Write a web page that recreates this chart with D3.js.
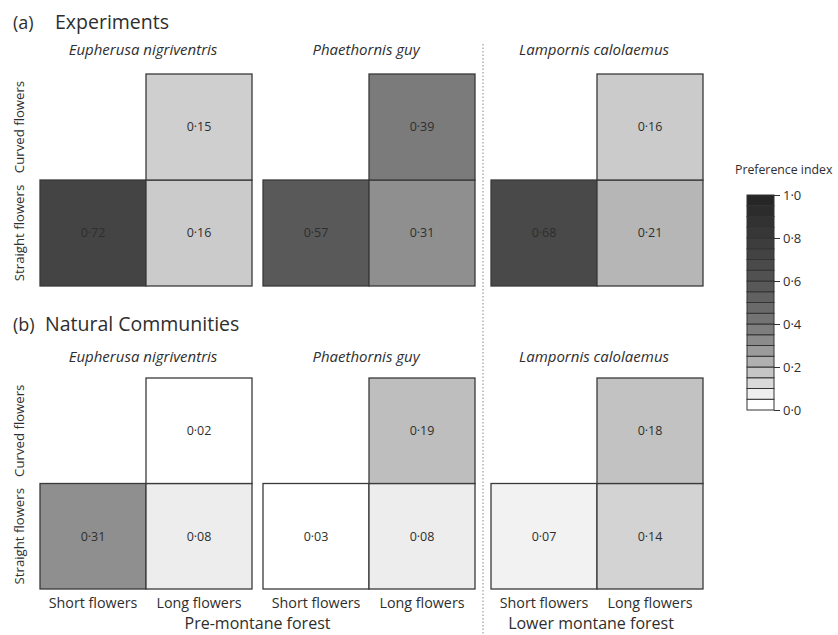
<!DOCTYPE html>
<html><head><meta charset="utf-8">
<script src="https://cdn.jsdelivr.net/npm/d3@7"></script>
<style>
body{margin:0;background:#fff}
text{font-family:"Open Sans",sans-serif;fill:#2e2e2e}
</style>
</head><body>
<svg id="chart" width="838" height="635"></svg>
<script>
// ---------- data ----------
const species = ["Eupherusa nigriventris", "Phaethornis guy", "Lampornis calolaemus"];
const flowerLengths = ["Short flowers", "Long flowers"];
const flowerShapes = ["Curved flowers", "Straight flowers"];
const forests = ["Pre-montane forest", "Lower montane forest"];
const sectionLabels = ["(a)", "(b)"];
const sectionTitles = ["Experiments", "Natural Communities"];
// Experiments
const expStraightShort = [0.72, 0.57, 0.68];
const expStraightLong  = [0.16, 0.31, 0.21];
const expCurvedLong    = [0.15, 0.39, 0.16];
// Natural communities
const natStraightShort = [0.31, 0.03, 0.07];
const natStraightLong  = [0.08, 0.08, 0.14];
const natCurvedLong    = [0.02, 0.19, 0.18];
const legendTicks = [0, 0.2, 0.4, 0.6, 0.8, 1.0];
const legendTitle = "Preference index";

// ---------- helpers ----------
const svg = d3.select("#chart");
const fmt2 = v => d3.format(".2f")(v).replace(".", "\u00B7");
const fmt1 = v => d3.format(".1f")(v).replace(".", "\u00B7");
const grayScale = d3.scaleLinear()
  .domain([0, 0.04, 0.1, 0.2, 0.3, 0.4, 0.55, 0.7, 1])
  .range([255, 255, 228, 186, 145, 120, 92, 70, 35]).clamp(true);
const color = v => { const g = Math.round(grayScale(v)); return `rgb(${g},${g},${g})`; };

const panelX = d3.scaleOrdinal().domain(species).range([40, 263, 491]);
const cellX = d3.scaleBand().domain(flowerLengths).range([0, 212]);

const sections = [
  {label: sectionLabels[0], title: sectionTitles[0], labelX: 13, titleX: 55, headY: 29, spY: 55, top: 74, bottom: 286,
   ss: expStraightShort, sl: expStraightLong, cl: expCurvedLong},
  {label: sectionLabels[1], title: sectionTitles[1], labelX: 13, titleX: 45, headY: 331, spY: 362, top: 378, bottom: 589,
   ss: natStraightShort, sl: natStraightLong, cl: natCurvedLong}
];

sections.forEach((s, si) => {
  const cellY = d3.scaleBand().domain(flowerShapes).range([s.top, s.bottom]);
  svg.append("text").attr("x", s.labelX).attr("y", s.headY).style("font-size", "18px").text(s.label);
  svg.append("text").attr("x", s.titleX).attr("y", s.headY).style("font-size", "19.5px").text(s.title);

  // y labels
  flowerShapes.forEach(sh => {
    const cy = cellY(sh) + cellY.bandwidth() / 2;
    svg.append("text")
      .attr("transform", `translate(24,${cy}) rotate(-90)`)
      .attr("text-anchor", "middle").style("font-size", "13.2px").text(sh);
  });

  species.forEach((sp, i) => {
    const g = svg.append("g").attr("transform", `translate(${panelX(sp)},0)`);
    g.append("text").attr("x", 103).attr("y", s.spY).attr("text-anchor", "middle")
      .style("font-size", "15px").style("font-style", "italic").text(sp);
    const cells = [
      {len: flowerLengths[0], shape: flowerShapes[1], v: s.ss[i]},
      {len: flowerLengths[1], shape: flowerShapes[1], v: s.sl[i]},
      {len: flowerLengths[1], shape: flowerShapes[0], v: s.cl[i]}
    ];
    g.selectAll("rect").data(cells).join("rect")
      .attr("x", d => cellX(d.len)).attr("y", d => cellY(d.shape))
      .attr("width", cellX.bandwidth()).attr("height", cellY.bandwidth())
      .attr("fill", d => color(d.v)).attr("stroke", "#3a3a3a").attr("stroke-width", 1.3);
    g.selectAll("text.val").data(cells).join("text").attr("class", "val")
      .attr("x", d => cellX(d.len) + cellX.bandwidth() / 2)
      .attr("y", d => cellY(d.shape) + cellY.bandwidth() / 2)
      .attr("dy", "0.35em").attr("text-anchor", "middle")
      .style("font-size", "12.5px").text(d => fmt2(d.v));
    if (si === 1) {
      flowerLengths.forEach(l => {
        g.append("text").attr("x", cellX(l) + cellX.bandwidth() / 2).attr("y", 608)
          .attr("text-anchor", "middle").style("font-size", "14.3px").text(l);
      });
    }
  });
});

// forest labels
svg.append("text").attr("x", (panelX(species[0]) + panelX(species[1]) + 212) / 2).attr("y", 629)
  .attr("text-anchor", "middle").style("font-size", "16px").text(forests[0]);
svg.append("text").attr("x", panelX(species[2]) + 100).attr("y", 629)
  .attr("text-anchor", "middle").style("font-size", "16px").text(forests[1]);

// dotted divider
svg.append("line").attr("x1", 483).attr("x2", 483).attr("y1", 44).attr("y2", 635)
  .attr("stroke", "#888").attr("stroke-width", 1).attr("stroke-dasharray", "1.5,2");

// ---------- legend ----------
const ly = d3.scaleLinear().domain([0, 1]).range([410, 195]);
svg.append("text").attr("x", 735).attr("y", 174).style("font-size", "12.3px").text(legendTitle);
const bands = d3.range(20).map(i => i * 0.05);
svg.append("g").selectAll("rect").data(bands).join("rect")
  .attr("x", 747).attr("width", 27)
  .attr("y", d => ly(d + 0.05)).attr("height", d => ly(d) - ly(d + 0.05))
  .attr("fill", d => color(d + 0.025)).attr("stroke", "#333").attr("stroke-width", 1);
const axis = d3.axisRight(ly).tickValues(legendTicks).tickFormat(fmt1).tickSize(6).tickSizeOuter(0);
const ag = svg.append("g").attr("transform", "translate(774,0)").call(axis);
ag.select(".domain").remove();
ag.selectAll(".tick line").attr("stroke", "#333");
ag.selectAll(".tick text").attr("x", 9).style("font-size", "13px").style("font-family", "'Open Sans',sans-serif").attr("fill", "#2e2e2e");
</script>
</body></html>
